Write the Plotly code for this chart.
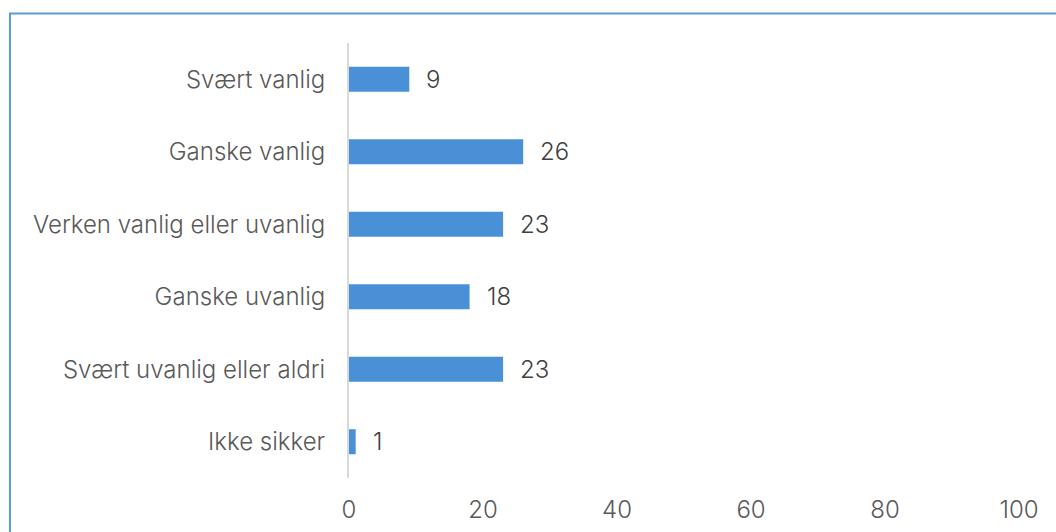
import plotly.graph_objects as go

categories = ["Svært vanlig", "Ganske vanlig", "Verken vanlig eller uvanlig",
              "Ganske uvanlig", "Svært uvanlig eller aldri", "Ikke sikker"]
values = [9, 26, 23, 18, 23, 1]
x_ticks = [0, 20, 40, 60, 80, 100]

BAR = "#4a90d7"
TXT = "#595959"

fig = go.Figure(go.Bar(
    x=values, y=categories, orientation="h",
    marker=dict(color=BAR, line=dict(width=0)),
    width=0.345, hoverinfo="skip",
))

for cat, v in zip(categories, values):
    fig.add_annotation(x=v, y=cat, text=str(v), showarrow=False,
                       xanchor="left", xshift=15,
                       font=dict(family="Inter", size=24, color="#404040",
                                 weight=300))

# outer frame of the chart area
fig.add_shape(type="rect", xref="paper", yref="paper",
              x0=-0.506, x1=1.2, y0=-0.3, y1=1.068,
              line=dict(color="#5b9bd5", width=2), fillcolor="rgba(0,0,0,0)")

fig.update_layout(
    width=1056, height=532,
    margin=dict(l=349, r=37, t=43, b=54),
    paper_bgcolor="white", plot_bgcolor="white",
    showlegend=False,
    font=dict(family="Inter", size=24, color=TXT, weight=300),
    xaxis=dict(range=[0, 100], tickvals=x_ticks, showgrid=False,
               zeroline=False, showline=False, ticks="",
               ticklabelstandoff=15, automargin=False, fixedrange=True),
    yaxis=dict(autorange="reversed", showgrid=False, zeroline=False,
               showline=True, linecolor="#d9d9d9", linewidth=2,
               ticks="", ticklabelstandoff=17, automargin=False,
               fixedrange=True),
)

fig.write_html("out.html")
